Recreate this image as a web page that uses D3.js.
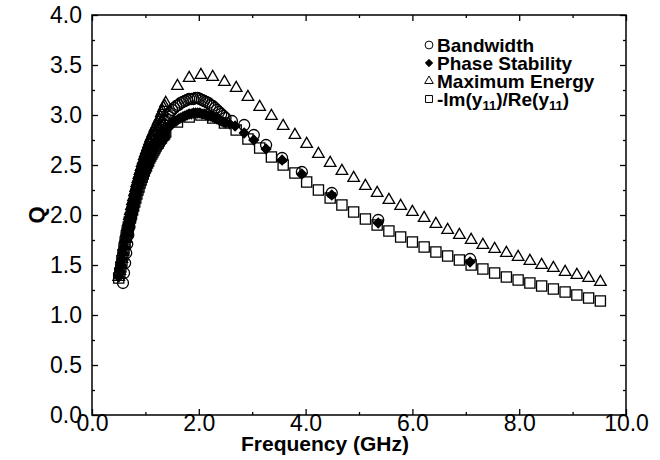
<!DOCTYPE html>
<html>
<head>
<meta charset="utf-8">
<script src="https://cdn.jsdelivr.net/npm/d3@7"></script>
<style>
body { margin: 0; background: #fff; }
svg { display: block; font-family: "Liberation Sans", Arial, Helvetica, sans-serif; }
</style>
</head>
<body>
<svg id="chart" width="660" height="460"></svg>
<script>
// fine sweep (low frequency), GHz
var freqFine = [0.50,0.52,0.54,0.56,0.58,0.60,0.62,0.64,0.66,0.68,0.70,0.72,0.74,0.76,0.78,0.80,0.82,0.84,0.86,0.88,
  0.90,0.92,0.94,0.96,0.98,1.00,1.02,1.04,1.06,1.08,1.10,1.12,1.14,1.16,1.18,1.20,1.22,1.24,1.26,1.28,
  1.30,1.32,1.34,1.36,1.38];
var squareFine = [1.37,1.42,1.48,1.54,1.60,1.66,1.72,1.78,1.83,1.88,1.93,1.97,2.01,2.05,2.09,2.13,2.17,2.21,2.25,2.28,
  2.32,2.35,2.38,2.41,2.44,2.47,2.49,2.52,2.54,2.57,2.59,2.61,2.63,2.65,2.67,2.69,2.71,2.72,2.74,2.76,
  2.77,2.79,2.80,2.81,2.83];
var triFine = [1.38,1.44,1.50,1.56,1.63,1.69,1.76,1.82,1.88,1.93,1.99,2.04,2.09,2.14,2.18,2.23,2.27,2.32,2.36,2.40,
  2.44,2.48,2.52,2.55,2.59,2.62,2.65,2.68,2.71,2.74,2.77,2.79,2.82,2.84,2.87,2.89,2.91,2.94,2.96,2.98,
  3.02,3.04,3.07,3.09,3.12];
var diamondFine = [1.38,1.44,1.50,1.56,1.62,1.68,1.74,1.80,1.85,1.90,1.95,1.99,2.03,2.07,2.11,2.15,2.19,2.23,2.27,2.30,
  2.34,2.37,2.40,2.43,2.46,2.49,2.51,2.54,2.56,2.59,2.61,2.63,2.65,2.67,2.69,2.71,2.73,2.74,2.76,2.78,
  2.79,2.81,2.82,2.83,2.85];

// bandwidth sweep starts a little later
var freqCircleFine = [0.58,0.60,0.62,0.64,0.66,0.68,0.70,0.72,0.74,0.76,0.78,0.80,0.82,0.84,0.86,0.88,0.90,0.92,0.94,0.96,
  0.98,1.00,1.02,1.04,1.06,1.08,1.10,1.12,1.14,1.16,1.18,1.20,1.22,1.24,1.26,1.28,1.30,1.32,1.34,1.36,1.38];
var circleFine = [1.32,1.42,1.52,1.62,1.71,1.80,1.88,1.95,2.02,2.08,2.14,2.19,2.24,2.28,2.32,2.36,2.40,2.43,2.46,2.49,
  2.52,2.55,2.58,2.61,2.63,2.66,2.68,2.71,2.73,2.75,2.78,2.80,2.82,2.84,2.86,2.88,2.90,2.92,2.94,2.95,2.97];

// mid sweep around the peak (bandwidth + phase stability)
var freqMid = [1.42,1.46,1.50,1.54,1.58,1.62,1.66,1.70,1.74,1.78,1.82,1.86,1.90,1.94,1.98,2.02,2.06,2.10,2.14,2.18,
  2.22,2.26,2.30,2.34,2.38,2.42,2.46,2.50];
var diamondMid = [2.87,2.89,2.91,2.93,2.94,2.96,2.97,2.98,2.99,3.00,3.01,3.01,3.02,3.02,3.02,3.02,3.01,3.01,3.00,2.99,
  2.99,2.98,2.97,2.96,2.95,2.94,2.93,2.92];
var circleMid = [3.00,3.02,3.05,3.07,3.09,3.10,3.12,3.13,3.14,3.15,3.16,3.16,3.16,3.17,3.17,3.16,3.15,3.14,3.13,3.12,
  3.10,3.09,3.07,3.05,3.03,3.01,2.99,2.97];

// coarse sweep (maximum energy, -Im/Re)
var freqCoarse = [1.60,1.82,2.04,2.26,2.48,2.70,2.92,3.14,3.36,3.58,3.80,4.02,4.24,4.46,4.68,4.90,5.12,5.34,5.56,5.78,
  6.00,6.22,6.44,6.66,6.88,7.10,7.32,7.54,7.76,7.98,8.20,8.42,8.64,8.86,9.08,9.30,9.52];
var squareCoarse = [2.93,2.98,3.00,2.97,2.92,2.85,2.76,2.67,2.58,2.50,2.42,2.33,2.25,2.17,2.10,2.03,1.96,1.90,1.84,1.78,
  1.73,1.68,1.63,1.59,1.55,1.50,1.46,1.42,1.38,1.35,1.32,1.29,1.26,1.23,1.20,1.17,1.14];
var triCoarse = [3.29,3.37,3.40,3.38,3.33,3.27,3.18,3.08,2.99,2.89,2.80,2.71,2.61,2.52,2.44,2.37,2.29,2.22,2.15,2.09,
  2.03,1.97,1.91,1.85,1.80,1.75,1.70,1.66,1.62,1.58,1.54,1.50,1.47,1.43,1.40,1.37,1.33];

// sparse points at high frequency
var freqDiamondSparse = [2.58,2.68,2.85,3.03,3.26,3.56,3.93,4.49,5.36,7.08];
var diamondSparse = [2.91,2.89,2.82,2.75,2.66,2.55,2.41,2.20,1.92,1.53];
var freqCircleSparse = [2.62,2.85,3.03,3.26,3.56,3.93,4.49,5.36,7.08];
var circleSparse = [2.94,2.90,2.80,2.70,2.57,2.43,2.22,1.95,1.56];

var legendLabels = ["Bandwidth", "Phase Stability", "Maximum Energy", "-Im(y11)/Re(y11)"];
var xMajor = [0, 2, 4, 6, 8, 10], xMinor = [1, 3, 5, 7, 9];
var yMajor = [0, 0.5, 1, 1.5, 2, 2.5, 3, 3.5, 4], yMinor = [0.25, 0.75, 1.25, 1.75, 2.25, 2.75, 3.25, 3.75];

function pts(fs, qs) { return d3.zip(fs, qs); }

var squares = pts(freqFine, squareFine).concat(pts(freqCoarse, squareCoarse));
var triangles = pts(freqFine, triFine).concat(pts(freqCoarse, triCoarse));
var circles = pts(freqCircleFine, circleFine).concat(pts(freqMid, circleMid), pts(freqCircleSparse, circleSparse));
var diamonds = pts(freqFine, diamondFine).concat(pts(freqMid, diamondMid), pts(freqDiamondSparse, diamondSparse));

var svg = d3.select("#chart");
var L = 92, R = 626, T = 15, B = 415;
var x = d3.scaleLinear().domain([0, 10]).range([L, R]);
var y = d3.scaleLinear().domain([0, 4]).range([B, T]);

var diamondType = d3.symbolDiamond2 || d3.symbolSquare;
var shapes = {
  circle: d3.symbol().type(d3.symbolCircle).size(95),
  square: d3.symbol().type(d3.symbolSquare).size(104),
  triangle: d3.symbol().type(d3.symbolTriangle).size(58),
  diamond: d3.symbol().type(diamondType).size(58)
};

function drawAxis(axis, tx, ty, labels) {
  var g = svg.append("g").attr("transform", "translate(" + tx + "," + ty + ")").call(axis);
  g.select(".domain").remove();
  g.selectAll("line").attr("stroke", "#000").attr("stroke-width", 1.3);
  g.selectAll("text").attr("fill", "#000").style("font-size", "23px");
  if (!labels) g.selectAll("text").remove();
  return g;
}

// major + minor ticks on all four sides, pointing inward
drawAxis(d3.axisBottom(x).tickValues(xMajor).tickSize(-6).tickSizeOuter(0).tickPadding(0).tickFormat(d3.format(".1f")), 0, B, true);
drawAxis(d3.axisBottom(x).tickValues(xMinor).tickSize(-3).tickSizeOuter(0), 0, B, false);
drawAxis(d3.axisTop(x).tickValues(xMajor).tickSize(-6).tickSizeOuter(0), 0, T, false);
drawAxis(d3.axisTop(x).tickValues(xMinor).tickSize(-3).tickSizeOuter(0), 0, T, false);
drawAxis(d3.axisLeft(y).tickValues(yMajor).tickSize(-6).tickSizeOuter(0).tickPadding(10).tickFormat(d3.format(".1f")), L, 0, true);
drawAxis(d3.axisLeft(y).tickValues(yMinor).tickSize(-3).tickSizeOuter(0), L, 0, false);
drawAxis(d3.axisRight(y).tickValues(yMajor).tickSize(-6).tickSizeOuter(0), R, 0, false);
drawAxis(d3.axisRight(y).tickValues(yMinor).tickSize(-3).tickSizeOuter(0), R, 0, false);

svg.append("rect")
  .attr("x", L).attr("y", T).attr("width", R - L).attr("height", B - T)
  .attr("fill", "none").attr("stroke", "#000").attr("stroke-width", 1.5);

function drawMarks(data, shape, filled) {
  svg.append("g").selectAll("path")
    .data(data)
    .enter().append("path")
      .attr("d", shapes[shape])
      .attr("transform", function(d) { return "translate(" + x(d[0]) + "," + y(d[1]) + ")"; })
      .attr("fill", filled ? "#000" : "none")
      .attr("stroke", "#000")
      .attr("stroke-width", 1.3);
}

drawMarks(squares, "square", false);
drawMarks(triangles, "triangle", false);
drawMarks(circles, "circle", false);
drawMarks(diamonds, "diamond", true);

// axis titles
svg.append("text")
  .attr("x", 325).attr("y", 451)
  .attr("text-anchor", "middle")
  .style("font-size", "21px").style("font-weight", "bold")
  .text("Frequency (GHz)");

svg.append("text")
  .attr("transform", "translate(44,215) rotate(-90)")
  .attr("text-anchor", "middle")
  .style("font-size", "22px").style("font-weight", "bold")
  .text("Q");

// legend
var legendShapes = [
  d3.symbol().type(d3.symbolCircle).size(48),
  d3.symbol().type(diamondType).size(34),
  d3.symbol().type(d3.symbolTriangle).size(32),
  d3.symbol().type(d3.symbolSquare).size(48)
];
var leg = svg.append("g").attr("transform", "translate(429,45)");
legendLabels.forEach(function(lab, i) {
  var row = leg.append("g").attr("transform", "translate(0," + (i * 18) + ")");
  row.append("path")
    .attr("d", legendShapes[i])
    .attr("fill", i == 1 ? "#000" : "none")
    .attr("stroke", "#000").attr("stroke-width", 1);
  var t = row.append("text")
    .attr("x", 8).attr("y", 7)
    .style("font-size", "19px").style("font-weight", "bold");
  if (i == 3) {
    t.append("tspan").text("-Im(y");
    t.append("tspan").attr("dy", 4).style("font-size", "13px").text("11");
    t.append("tspan").attr("dy", -4).text(")/Re(y");
    t.append("tspan").attr("dy", 4).style("font-size", "13px").text("11");
    t.append("tspan").attr("dy", -4).text(")");
  } else {
    t.text(lab);
  }
});
</script>
</body>
</html>
